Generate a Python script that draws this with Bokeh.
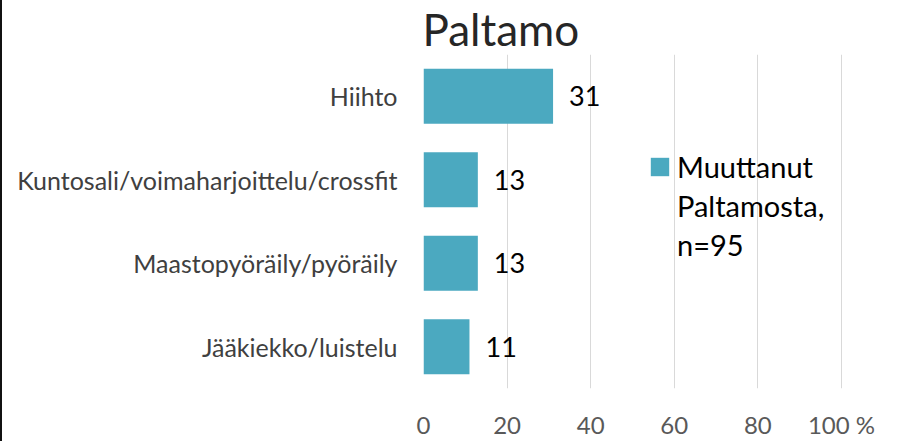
from bokeh.plotting import figure
from bokeh.models import (FactorRange, Range1d, ColumnDataSource, LabelSet, FixedTicker,
                          Legend, LegendItem, Title)
from bokeh.core.properties import value
from bokeh.embed import file_html
from bokeh.resources import INLINE

# ---- data ----
categories = ["Hiihto", "Kuntosali/voimaharjoittelu/crossfit",
              "Maastopyöräily/pyöräily", "Jääkiekko/luistelu"]
values = [31, 13, 13, 11]
value_labels = ["31", "13", "13", "11"]
tick_values = [0, 20, 40, 60, 80, 100]
tick_labels = ["0", "20", "40", "60", "80", "100 %"]
series_name = ["Muuttanut", "Paltamosta,", "n=95"]
title_text = "Paltamo"

FONT = "Lato"
BAR = "#4ba9c0"

src = ColumnDataSource(dict(cat=categories, val=values, lab=value_labels))

p = figure(width=909, height=441,
           y_range=FactorRange(factors=list(reversed(categories))),
           x_range=Range1d(0, 100.25),
           output_backend="svg", toolbar_location=None,
           min_border_left=421, min_border_right=69,
           min_border_top=53, min_border_bottom=49)
p.styles = {"border-left": "2px solid #111111"}
p.outline_line_color = None
p.background_fill_color = "white"
p.border_fill_color = "white"

t = Title(text=title_text, align="left", offset=-1, standoff=0,
          text_font=FONT, text_font_size="44px", text_font_style="normal",
          text_color="#262626")
p.add_layout(t, "above")

bars = p.hbar(y="cat", right="val", left=0, height=0.66, source=src,
              fill_color=BAR, line_color=None)

labels = LabelSet(x="val", y="cat", text="lab", source=src, x_offset=16,
                  text_baseline="middle", text_align="left",
                  text_font=value(FONT), text_font_size=value("27px"),
                  text_color="black")
p.add_layout(labels)

# axes
xa = p.xaxis[0]
xa.ticker = FixedTicker(ticks=tick_values)
xa.major_label_overrides = {v: l for v, l in zip(tick_values, tick_labels)}
xa.axis_line_color = None
xa.major_tick_line_color = None
xa.minor_tick_line_color = None
xa.major_tick_out = 0
xa.major_tick_in = 0
xa.major_label_standoff = 21
xa.major_label_text_font = FONT
xa.major_label_text_font_size = "24px"
xa.major_label_text_color = "#595959"

ya = p.yaxis[0]
ya.axis_line_color = None
ya.major_tick_line_color = None
ya.minor_tick_line_color = None
ya.major_tick_out = 0
ya.major_tick_in = 0
ya.major_label_standoff = 26
ya.major_label_text_font = FONT
ya.major_label_text_font_size = "25px"
ya.major_label_text_color = "#404040"

p.xgrid.grid_line_color = "#d9d9d9"
p.xgrid.grid_line_width = 1
p.ygrid.grid_line_color = None

# legend: first row carries the swatch, others are text continuation
dummy1 = p.hbar(y=[], right=[], height=0.5, fill_alpha=0, line_alpha=0)
dummy2 = p.hbar(y=[], right=[], height=0.5, fill_alpha=0, line_alpha=0)
legend = Legend(items=[LegendItem(label=series_name[0], renderers=[bars]),
                       LegendItem(label=series_name[1], renderers=[dummy1]),
                       LegendItem(label=series_name[2], renderers=[dummy2])],
                location=(225, 124), orientation="vertical",
                background_fill_alpha=0, border_line_color=None,
                padding=0, margin=0, spacing=0,
                glyph_width=23, glyph_height=23, label_standoff=6,
                label_height=39,
                label_text_font=FONT, label_text_font_size="29px",
                label_text_color="black")
p.add_layout(legend, "center")

open("out.html", "w").write(file_html(p, INLINE))
